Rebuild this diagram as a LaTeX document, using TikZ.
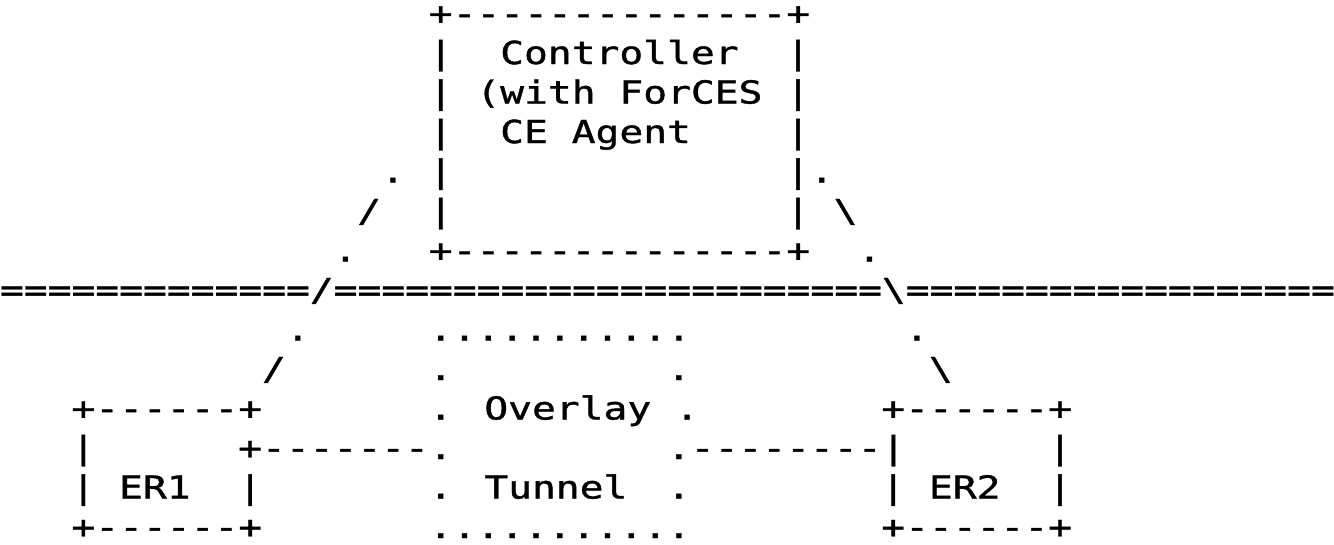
\documentclass[tikz,border=0pt]{standalone}
\usepackage{fontspec}
\newfontfamily\asciifont[FakeStretch=1.253,FakeBold=1.2,Ligatures=TeXOff]{DejaVu Sans Mono}
\tikzset{asc/.style={anchor=base west,inner sep=0pt,outer sep=0pt,font=\asciifont\fontsize{23.7}{28}\selectfont}}

\begin{document}
\begin{tikzpicture}[x=0.75pt,y=0.75pt,yscale=-1,xscale=1]
\useasboundingbox (0,0) rectangle (1334,544); %set diagram left start at 0, and has height of 544

%Controller box
\node[asc] (ctrltop) at (428.76,24.5) {+--------------+};
\node[asc] (ctrlla) at (428.76,64) {|};
\node[asc] (ctrlname) at (500.22,64) {Controller};
\node[asc] (ctrlra) at (786.06,64) {|};
\node[asc] (ctrllb) at (428.76,103.5) {|};
\node[asc] (ctrlwith) at (476.4,103.5) {(with ForCES};
\node[asc] (ctrlrb) at (786.06,103.5) {|};
\node[asc] (ctrllc) at (428.76,143) {|};
\node[asc] (ctrlagent) at (500.22,143) {CE Agent};
\node[asc] (ctrlrc) at (786.06,143) {|};
\node[asc] (ctrlld) at (428.76,182.5) {|};
\node[asc] (ctrlrd) at (786.06,182.5) {|.};
\node[asc] (ctrlle) at (428.76,222) {|};
\node[asc] (ctrlre) at (786.06,222) {|};
\node[asc] (ctrlbot) at (428.76,261.5) {+--------------+};

%Left link, controller to ER1
\node[asc] (lkla) at (381.12,182.5) {.};
\node[asc] (lklb) at (357.3,222) {/};
\node[asc] (lklc) at (333.48,261.5) {.};
\node[asc] (lkld) at (285.84,340.5) {.};
\node[asc] (lkle) at (262.02,380) {/};

%Right link, controller to ER2
\node[asc] (lkrb) at (833.7,222) {\textbackslash};
\node[asc] (lkrc) at (857.52,261.5) {.};
\node[asc] (lkrd) at (905.16,340.5) {.};
\node[asc] (lkre) at (928.98,380) {\textbackslash};

%Domain line
\node[asc] (domain) at (0,301) {=============/=======================\textbackslash==================};

%Overlay tunnel
\node[asc] (tuntop) at (428.76,340.5) {...........};
\node[asc] (tunla) at (428.76,380) {.};
\node[asc] (tunra) at (666.96,380) {.};
\node[asc] (overlay) at (428.76,419.5) {. Overlay .};
\node[asc] (tunlb) at (238.2,459) {+-------.};
\node[asc] (tunrb) at (666.96,459) {.--------|};
\node[asc] (tunnel) at (428.76,498.5) {. Tunnel};
\node[asc] (tunrc) at (666.96,498.5) {.};
\node[asc] (tunbot) at (428.76,538) {...........};

%ER1
\node[asc] (eratop) at (71.46,419.5) {+------+};
\node[asc] (erala) at (71.46,459) {|};
\node[asc] (eralb) at (71.46,498.5) {|};
\node[asc] (era) at (119.1,498.5) {ER1};
\node[asc] (erarb) at (238.2,498.5) {|};
\node[asc] (erabot) at (71.46,538) {+------+};

%ER2
\node[asc] (erbtop) at (881.34,419.5) {+------+};
\node[asc] (erbla) at (881.34,498.5) {|};
\node[asc] (erb) at (928.98,498.5) {ER2};
\node[asc] (erbra) at (1048.08,459) {|};
\node[asc] (erbrb) at (1048.08,498.5) {|};
\node[asc] (erbbot) at (881.34,538) {+------+};
\end{tikzpicture}
\end{document}
